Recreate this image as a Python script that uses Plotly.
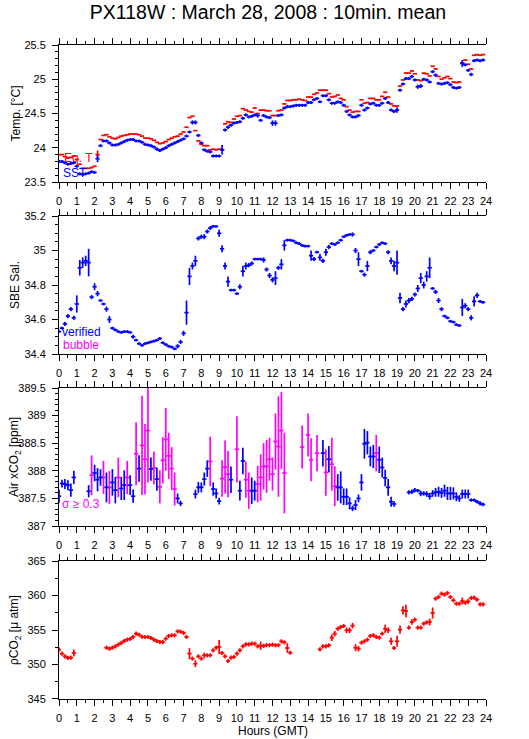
import plotly.graph_objects as go

# 10-minute means, one entry per interval starting at 00:00 GMT
hours = [k / 6 for k in range(144)]

eq_temp = [
    23.90, 23.90, 23.87, 23.85, 23.86, 23.88,
    23.83, 23.76, 23.70, 23.70, 23.70, 23.71,
    23.73, 23.90, 24.12, 24.18, 24.19, 24.16,
    24.14, 24.13, 24.15, 24.17, 24.18, 24.19,
    24.20, 24.20, 24.20, 24.19, 24.17, 24.14,
    24.14, 24.13, 24.11, 24.08, 24.06, 24.07,
    24.09, 24.12, 24.14, 24.16, 24.17, 24.20,
    24.23, 24.30, 24.44, 24.46, 24.25, 24.10,
    24.05, 24.03, 24.03, 23.97, 23.98, 23.97,
    23.98, 23.97, 24.35, 24.38, 24.37, 24.42,
    24.46, 24.47, 24.57, 24.55, 24.53, 24.52,
    24.58, 24.50, 24.55, 24.55, 24.54, 24.54,
    24.47, 24.47, 24.54, 24.55, 24.64, 24.69,
    24.69, 24.70, 24.70, 24.71, 24.70, 24.69,
    24.74, 24.74, 24.78, 24.80, 24.84, 24.84,
    24.84, 24.79, 24.74, 24.75, 24.77, 24.72,
    24.70, 24.60, 24.55, 24.52, 24.53, 24.53,
    24.70, 24.65, 24.66, 24.72, 24.72, 24.70,
    24.70, 24.75, 24.81, 24.74, 24.64, 24.61,
    24.61, 24.90, 24.99, 25.09, 25.09, 25.12,
    25.08, 24.99, 24.98, 25.09, 25.08, 25.05,
    25.19, 25.15, 25.04, 25.00, 25.02, 25.04,
    25.01, 24.96, 24.95, 24.96, 25.24, 25.28,
    25.22, 25.15, 25.35, 25.36, 25.35, 25.36,
]
eq_temp_err = [
    0.005, 0.005, 0.005, 0.005, 0.005, 0.005,
    0.005, 0.005, 0.005, 0.005, 0.005, 0.005,
    0.005, 0.06, 0.005, 0.005, 0.005, 0.005,
] + [0.005] * 126

sst = [
    23.80, 23.80, 23.78, 23.76, 23.77, 23.78,
    23.73, 23.62, 23.61, 23.62, 23.63, 23.65,
    23.64, 23.84, 24.03, 24.10, 24.10, 24.07,
    24.04, 24.04, 24.05, 24.07, 24.09, 24.11,
    24.12, 24.12, 24.10, 24.10, 24.08, 24.05,
    24.04, 24.03, 24.01, 23.98, 23.96, 23.98,
    24.00, 24.03, 24.05, 24.07, 24.09, 24.11,
    24.13, 24.17, 24.23, 24.37, 24.37, 24.18,
    24.07, 23.97, 23.95, 23.94, 23.88, 23.88,
    23.88, 23.97, 24.26, 24.30, 24.33, 24.36,
    24.37, 24.38, 24.43, 24.48, 24.45, 24.46,
    24.48, 24.47, 24.40, 24.47, 24.45, 24.44,
    24.36, 24.36, 24.47, 24.48, 24.58, 24.60,
    24.60, 24.61, 24.62, 24.62, 24.62, 24.62,
    24.66, 24.66, 24.70, 24.72, 24.67, 24.76,
    24.76, 24.70, 24.65, 24.65, 24.67, 24.66,
    24.62, 24.53, 24.48, 24.45, 24.45, 24.47,
    24.62, 24.55, 24.58, 24.64, 24.65, 24.62,
    24.62, 24.65, 24.72, 24.66, 24.55, 24.53,
    24.55, 24.84, 24.93, 25.01, 25.01, 25.04,
    24.99, 24.89, 24.90, 25.00, 24.99, 24.96,
    25.11, 25.06, 24.94, 24.93, 24.94, 24.95,
    24.92, 24.88, 24.87, 24.88, 25.23, 25.21,
    25.13, 25.07, 25.27, 25.28, 25.27, 25.28,
]
sst_err = [
    0.022, 0.022, 0.022, 0.022, 0.022, 0.022,
    0.022, 0.022, 0.022, 0.022, 0.022, 0.022,
    0.022, 0.05, 0.022, 0.022, 0.022, 0.022,
    0.022, 0.022, 0.022, 0.022, 0.022, 0.022,
    0.022, 0.022, 0.022, 0.022, 0.022, 0.022,
    0.022, 0.022, 0.022, 0.022, 0.022, 0.022,
    0.022, 0.022, 0.022, 0.022, 0.022, 0.022,
    0.022, 0.022, 0.022, 0.03, 0.03, 0.022,
    0.022, 0.022, 0.022, 0.022, 0.022, 0.022,
    0.022, 0.07, 0.022, 0.025, 0.022, 0.022,
    0.022, 0.022, 0.022, 0.022, 0.022, 0.022,
    0.022, 0.03, 0.022, 0.022, 0.022, 0.022,
    0.04, 0.04, 0.022, 0.022, 0.022, 0.022,
    0.022, 0.022, 0.022, 0.022, 0.022, 0.022,
    0.022, 0.022, 0.022, 0.022, 0.022, 0.022,
    0.022, 0.022, 0.022, 0.022, 0.022, 0.022,
    0.022, 0.022, 0.022, 0.022, 0.022, 0.022,
    0.022, 0.022, 0.022, 0.022, 0.022, 0.022,
    0.022, 0.022, 0.022, 0.022, 0.022, 0.022,
    0.04, 0.022, 0.022, 0.022, 0.022, 0.022,
    0.022, 0.03, 0.03, 0.022, 0.022, 0.022,
    0.022, 0.025, 0.022, 0.022, 0.022, 0.022,
    0.022, 0.022, 0.022, 0.022, 0.05, 0.022,
    0.022, 0.025, 0.022, 0.022, 0.022, 0.022,
]

salinity = [
    34.53, 34.55, 34.575, 34.62, 34.66, 34.61,
    34.69, 34.90, 34.93, 34.94, 34.93, 34.73,
    34.79, 34.75, 34.71, 34.69, 34.66, 34.60,
    34.55, 34.54, 34.53, 34.525, 34.53, 34.53,
    34.525, 34.50, 34.48, 34.46, 34.45, 34.46,
    34.465, 34.47, 34.475, 34.48, 34.49, 34.465,
    34.455, 34.445, 34.44, 34.43, 34.445, 34.47,
    34.52, 34.64, 34.85, 34.91, 34.94, 35.07,
    35.08, 35.08, 35.11, 35.13, 35.14, 35.14,
    35.10, 35.01, 34.91, 34.82, 34.77, 34.77,
    34.75, 34.79, 34.88, 34.91, 34.915, 34.925,
    34.95, 34.95, 34.95, 34.945, 34.89, 34.855,
    34.83, 34.84, 34.90, 34.92, 35.03, 35.06,
    35.06, 35.056, 35.045, 35.04, 35.03, 35.025,
    35.025, 34.97, 34.95, 34.99, 34.96, 34.94,
    34.99, 35.02, 35.04, 35.035, 35.045, 35.06,
    35.08, 35.088, 35.093, 35.093, 35.00, 34.95,
    34.88, 34.86, 34.91, 34.99, 35.00, 35.02,
    35.035, 35.045, 35.04, 34.99, 34.94, 34.91,
    34.93, 34.725, 34.66, 34.69, 34.71, 34.72,
    34.745, 34.78, 34.84, 34.80, 34.85, 34.90,
    34.78, 34.76, 34.71, 34.66, 34.62, 34.61,
    34.59, 34.585, 34.57, 34.565, 34.67, 34.68,
    34.66, 34.61, 34.705, 34.74, 34.705, 34.70,
]
salinity_err = [
    0.008, 0.008, 0.012, 0.012, 0.012, 0.012,
    0.05, 0.045, 0.03, 0.03, 0.08, 0.012,
    0.02, 0.015, 0.008, 0.008, 0.015, 0.02,
    0.008, 0.008, 0.008, 0.008, 0.008, 0.008,
    0.008, 0.012, 0.008, 0.008, 0.008, 0.008,
    0.008, 0.008, 0.008, 0.008, 0.008, 0.008,
    0.008, 0.008, 0.008, 0.008, 0.012, 0.012,
    0.015, 0.07, 0.05, 0.02, 0.03, 0.012,
    0.012, 0.015, 0.012, 0.012, 0.008, 0.008,
    0.02, 0.02, 0.02, 0.03, 0.008, 0.008,
    0.008, 0.015, 0.03, 0.02, 0.012, 0.012,
    0.008, 0.008, 0.008, 0.015, 0.012, 0.015,
    0.015, 0.04, 0.012, 0.03, 0.03, 0.008,
    0.008, 0.008, 0.008, 0.008, 0.008, 0.008,
    0.008, 0.03, 0.012, 0.008, 0.02, 0.012,
    0.02, 0.012, 0.008, 0.008, 0.008, 0.008,
    0.008, 0.008, 0.008, 0.012, 0.015, 0.04,
    0.008, 0.012, 0.03, 0.012, 0.008, 0.008,
    0.008, 0.008, 0.008, 0.012, 0.02, 0.03,
    0.07, 0.03, 0.012, 0.02, 0.015, 0.012,
    0.012, 0.02, 0.03, 0.02, 0.03, 0.06,
    0.008, 0.012, 0.015, 0.012, 0.008, 0.008,
    0.008, 0.008, 0.008, 0.008, 0.05, 0.015,
    0.012, 0.015, 0.03, 0.015, 0.008, 0.008,
]

N = None
air_xco2 = [
    387.54, 387.77, 387.76, 387.74, 387.65, 387.88,
    N, N, N, N, 387.63, 387.92,
    387.96, 387.84, 387.88, 387.88, 387.70, 387.70,
    387.79, 387.65, 387.88, 387.68, 387.74, 387.88,
    387.74, 387.54, 388.31, 388.04, 388.46, 388.21,
    388.73, 388.03, 388.05, 387.85, 387.71, 388.19,
    388.57, 388.27, 388.04, 387.67, 387.50, 387.41,
    N, N, N, N, 387.58, 387.70,
    387.70, 387.85, 388.04, 388.17, 387.67, 387.59,
    387.45, 387.86, 388.07, 387.94, 387.84, N,
    388.39, 387.64, 388.18, 387.84, 387.64, 387.64,
    387.64, 387.76, 387.88, 388.08, 388.08, 388.21,
    387.94, 388.53, 388.44, 388.73, 387.96, N,
    N, N, N, N, 388.43, N,
    388.65, 388.20, N, 388.32, N, 388.32,
    387.97, 388.21, 388.12, 387.72, 387.70, 387.70,
    387.53, 387.53, 387.41, 387.32, 387.38, 387.50,
    387.79, 388.49, 388.51, 388.26, 388.26, 388.32,
    388.20, 388.06, 387.87, 387.70, 387.44, 387.40,
    N, N, N, N, 387.61, 387.62,
    387.65, 387.64, 387.59, 387.59, 387.58, 387.54,
    387.59, 387.61, 387.62, 387.60, 387.64, 387.59,
    387.59, 387.59, 387.53, 387.50, 387.58, 387.58,
    387.58, 387.47, 387.47, 387.44, 387.41, 387.39,
]
air_xco2_sigma = [
    0.12, 0.07, 0.09, 0.09, 0.12, 0.12,
    N, N, N, N, 0.11, 0.36,
    0.15, 0.21, 0.15, 0.30, 0.27, 0.30,
    0.24, 0.24, 0.36, 0.21, 0.27, 0.30,
    0.18, 0.12, 0.57, 0.24, 0.90, 0.64,
    0.94, 0.21, 0.30, 0.21, 0.30, 0.42,
    0.57, 0.42, 0.39, 0.30, 0.09, 0.05,
    N, N, N, N, 0.08, 0.10,
    0.09, 0.12, 0.15, 0.45, 0.12, 0.09,
    0.06, 0.33, 0.48, 0.42, 0.24, N,
    0.60, 0.18, 0.24, 0.33, 0.33, 0.24,
    0.18, 0.33, 0.42, 0.42, 0.48, 0.39,
    0.30, 0.51, 0.91, 0.70, 0.73, N,
    N, N, N, N, 0.39, N,
    0.39, 0.39, N, 0.33, N, 0.24,
    0.42, 0.24, 0.48, 0.36, 0.24, 0.29,
    0.15, 0.15, 0.11, 0.05, 0.09, 0.07,
    0.15, 0.27, 0.21, 0.18, 0.21, 0.33,
    0.24, 0.18, 0.15, 0.15, 0.09, 0.05,
    N, N, N, N, 0.04, 0.04,
    0.04, 0.03, 0.05, 0.04, 0.05, 0.06,
    0.06, 0.08, 0.09, 0.09, 0.11, 0.12,
    0.12, 0.11, 0.08, 0.06, 0.08, 0.08,
    0.08, 0.03, 0.03, 0.03, 0.04, 0.03,
]

pco2 = [
    352.15, 351.57, 351.18, 350.94, 350.99, 351.67,
    N, N, N, N, N, N,
    N, N, N, N, 352.44, 352.29,
    352.44, 352.63, 352.87, 353.12, 353.41, 353.60,
    353.70, 353.99, 354.47, 354.32, 354.03, 353.99,
    353.99, 353.84, 353.60, 353.41, 353.26, 353.26,
    353.74, 354.13, 354.23, 354.23, 354.81, 354.76,
    354.57, 353.99, 351.57, 350.85, 350.12, 351.18,
    350.85, 351.33, 351.33, 351.33, 352.05, 352.44,
    352.54, 351.67, 351.18, 350.51, 350.99, 351.09,
    351.57, 352.05, 352.63, 352.92, 352.92, 353.02,
    353.02, 352.63, 352.73, 352.70, 352.80, 352.80,
    352.87, 352.78, 352.80, 353.36, 353.21, 352.39,
    351.71, N, N, N, N, N,
    N, N, N, N, 352.20, 352.63,
    352.63, 352.78, 353.89, 354.47, 355.19, 355.43,
    355.58, 354.95, 354.95, 355.63, 352.44, 352.29,
    353.16, 353.36, 353.60, 354.13, 354.23, 353.99,
    353.89, 354.47, 355.19, 354.95, 353.36, 352.39,
    353.36, 355.05, 357.85, 357.75, 355.34, 356.16,
    356.50, 355.34, 355.34, 355.92, 356.11, 356.16,
    357.46, 359.54, 359.78, 360.27, 360.12, 360.36,
    359.78, 359.30, 358.82, 358.82, 359.20, 358.96,
    359.15, 359.64, 359.69, 359.40, 358.72, 358.72,
]
pco2_err = [
    0.3, 0.3, 0.3, 0.3, 0.3, 0.5,
    N, N, N, N, N, N,
    N, N, N, N, 0.3, 0.3,
    0.3, 0.3, 0.3, 0.3, 0.3, 0.3,
    0.3, 0.3, 0.3, 0.3, 0.3, 0.3,
    0.3, 0.3, 0.3, 0.3, 0.3, 0.3,
    0.3, 0.3, 0.3, 0.3, 0.3, 0.3,
    0.3, 0.3, 0.8, 0.3, 0.5, 0.3,
    0.3, 0.4, 0.3, 0.3, 0.3, 0.3,
    1.0, 0.3, 0.3, 0.3, 0.3, 0.3,
    0.3, 0.3, 0.3, 0.3, 0.3, 0.3,
    0.3, 0.3, 0.6, 0.3, 0.3, 0.3,
    0.3, 0.3, 0.3, 0.3, 0.3, 0.7,
    0.3, N, N, N, N, N,
    N, N, N, N, 0.3, 0.3,
    0.3, 0.3, 0.5, 0.4, 0.3, 0.3,
    0.3, 0.4, 0.4, 0.4, 0.5, 0.4,
    0.3, 0.3, 0.3, 0.3, 0.3, 0.3,
    0.3, 0.3, 0.6, 0.4, 0.5, 0.3,
    0.8, 0.6, 0.6, 0.9, 0.3, 0.4,
    0.3, 0.3, 0.3, 0.3, 0.3, 0.5,
    0.8, 0.3, 0.3, 0.3, 0.3, 0.3,
    0.3, 0.3, 0.3, 0.3, 0.5, 0.3,
    0.4, 0.3, 0.3, 0.3, 0.3, 0.3,
]

hour_ticks = list(range(25))
SIGMA_LIMIT = 0.3

RED, BLUE, MAGENTA = "#ff0000", "#0000ff", "#ff00ff"
FONT = "Liberation Sans, Arial, Helvetica, sans-serif"

# panel layout: (y domain, y range, major tick, minor tick, title)
panels = [
    ([0.7905, 1.0], [23.5, 25.5], 0.5, 0.1, "Temp. [°C]"),
    ([0.5275, 0.7385], [34.4, 35.2], 0.2, 0.05, "SBE Sal."),
    ([0.2645, 0.4755], [387, 389.5], 0.5, 0.1, "Air xCO<sub>2</sub> [ppm]"),
    ([0.0, 0.2110], [345, 365], 5, 2.5, "ρCO<sub>2</sub> [μ atm]"),
]


def tenmin(x, y, err, color, ax):
    # each 10-min mean: horizontal bar over its interval, vertical bar = std. dev.
    return go.Scatter(
        x=x, y=y, mode="markers", marker=dict(size=1, color=color, opacity=0),
        error_x=dict(type="constant", value=0.12, width=0, thickness=1.7, color=color),
        error_y=dict(type="data", array=err, width=0, thickness=1.7, color=color),
        xaxis="x" + ax, yaxis="y" + ax, showlegend=False, hoverinfo="skip",
    )


fig = go.Figure()

fig.add_trace(tenmin(hours, eq_temp, eq_temp_err, RED, "1"))
fig.add_trace(tenmin(hours, sst, sst_err, BLUE, "1"))
fig.add_trace(tenmin(hours, salinity, salinity_err, BLUE, "2"))

# air xCO2 split by std. dev. flag
lo = [(h, v, s) for h, v, s in zip(hours, air_xco2, air_xco2_sigma) if v is not None and s < SIGMA_LIMIT]
hi = [(h, v, s) for h, v, s in zip(hours, air_xco2, air_xco2_sigma) if v is not None and s >= SIGMA_LIMIT]
fig.add_trace(tenmin([p[0] for p in hi], [p[1] for p in hi], [p[2] for p in hi], MAGENTA, "3"))
fig.add_trace(tenmin([p[0] for p in lo], [p[1] for p in lo], [p[2] for p in lo], BLUE, "3"))

fig.add_trace(tenmin(hours, pco2, pco2_err, RED, "4"))

axis_common = dict(
    showline=True, linecolor="black", linewidth=1, showgrid=False, zeroline=False,
    ticks="outside", ticklen=6, tickwidth=1, tickcolor="black", automargin=False,
    tickfont=dict(family=FONT, size=11, color="black"),
)

layout = {}
for i, (dom, rng, dt, mdt, title) in enumerate(panels, start=1):
    sfx = "" if i == 1 else str(i)
    layout["xaxis" + sfx] = dict(
        axis_common, domain=[0, 1], range=[0, 24], anchor="y" + sfx,
        tickmode="array", tickvals=hour_ticks, ticktext=[str(h) for h in hour_ticks],
        mirror="ticks", ticklabelstandoff=3,
        minor=dict(dtick=0.5, ticks="outside", ticklen=3, tickcolor="black", showgrid=False),
    )
    yminor = dict(dtick=mdt, tick0=rng[0], ticks="outside", ticklen=3, tickcolor="black", showgrid=False)
    layout["yaxis" + sfx] = dict(
        axis_common, domain=dom, range=rng, anchor="x" + sfx, dtick=dt, tick0=rng[0],
        mirror=False, ticklabelstandoff=4, minor=yminor,
    )
    layout["yaxis" + str(i + 4)] = dict(
        axis_common, range=rng, anchor="x" + sfx, overlaying="y" + sfx, side="right",
        dtick=dt, tick0=rng[0], ticklabelstandoff=4, minor=yminor,
    )

annotations = []
for i, (dom, rng, dt, mdt, title) in enumerate(panels, start=1):
    annotations.append(dict(
        text=title, xref="paper", yref="paper", x=-0.103, y=(dom[0] + dom[1]) / 2,
        xanchor="center", yanchor="middle", textangle=-90, showarrow=False,
        font=dict(family=FONT, size=12, color="black"),
    ))

legend_texts = [
    ("Eq. T", RED, "1", 0.15, 23.85),
    ("SST", BLUE, "1", 0.1, 23.63),
    ("verified", BLUE, "2", 0.05, 34.527),
    ("bubble", MAGENTA, "2", 0.1, 34.454),
    ("σ ≥ 0.3", MAGENTA, "3", 0.05, 387.39),
]
for text, color, ax, x, y in legend_texts:
    annotations.append(dict(
        text=text, xref="x" + ax, yref="y" + ax, x=x, y=y, xanchor="left", yanchor="middle",
        showarrow=False, font=dict(family=FONT, size=12, color=color),
    ))

annotations.append(dict(
    text="Hours (GMT)", xref="paper", yref="paper", x=0.5, y=-0.049,
    xanchor="center", yanchor="middle", showarrow=False,
    font=dict(family=FONT, size=12, color="black"),
))

fig.update_layout(
    **layout,
    annotations=annotations,
    title=dict(text="PX118W : March 28, 2008 : 10min. mean", xref="container", x=0.5066,
               yref="container", y=1 - 12 / 739, xanchor="center", yanchor="middle",
               font=dict(family=FONT, size=19.5, color="black")),
    width=529, height=739,
    margin=dict(l=59, r=43, t=45, b=40),
    paper_bgcolor="white", plot_bgcolor="white",
    showlegend=False,
)

# page body has a default 8px margin; drop it so the figure sits at the window corner
fig.write_html("out.html", config={"displayModeBar": False},
               post_script="document.body.style.margin='0';")
